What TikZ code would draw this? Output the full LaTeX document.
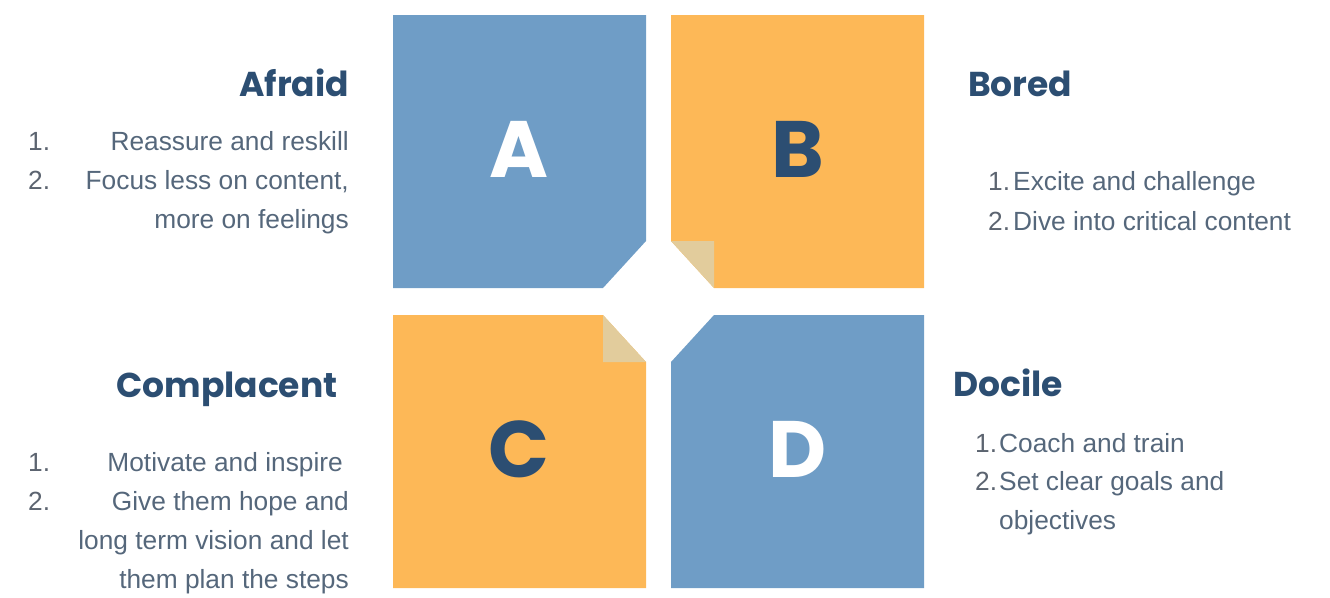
\documentclass[tikz,border=0pt]{standalone}
\usepackage{fontspec}
\setmainfont{Liberation Sans}
\newfontfamily\pop{Poppins}
\definecolor{qblue}{HTML}{6F9DC6}
\definecolor{qorange}{HTML}{FDB857}
\definecolor{qfold}{HTML}{E2CC9C}
\definecolor{qnavy}{HTML}{2C4E72}
\definecolor{qtext}{HTML}{55677B}
\definecolor{qnum}{HTML}{5C6470}
\begin{document}
\begin{tikzpicture}[x=1pt,y=-1pt,
  letter/.style={font=\pop\bfseries\fontsize{80}{80}\selectfont, inner sep=0pt, anchor=base},
  title/.style={font=\pop\bfseries\fontsize{34.5}{34.5}\selectfont, text=qnavy, inner sep=0pt},
  item/.style={font=\fontsize{26.3}{26.3}\selectfont, text=qtext, inner sep=0pt},
  num/.style={font=\fontsize{26.3}{26.3}\selectfont, text=qnum, inner sep=0pt, anchor=base west}]
\useasboundingbox (0,0) rectangle (1330,597);
% quadrants
\fill[qblue] (393,15) -- (646,15) -- (646,241) -- (603,288) -- (393,288) -- cycle;
\fill[qorange] (671,15) -- (924,15) -- (924,288) -- (714,288) -- (671,241) -- cycle;
\fill[qfold] (671,241) -- (714,241) -- (714,288) -- cycle;
\fill[qorange] (393,315) -- (603,315) -- (646,362) -- (646,588) -- (393,588) -- cycle;
\fill[qfold] (603,315) -- (603,362) -- (646,362) -- cycle;
\fill[qblue] (714,315) -- (924,315) -- (924,588) -- (671,588) -- (671,362) -- cycle;
% letters
\node[letter, text=white] (la) at (519,177) {A};
\node[letter, text=qnavy] (lb) at (798,177) {B};
\node[letter, text=qnavy] (lc) at (519,477) {C};
\node[letter, text=white] (ld) at (798,477) {D};
% A: Afraid
\node[title, anchor=base east] (ta) at (349,96) {Afraid};
\node[num] (a1n) at (28,150) {1.};
\node[item, anchor=base east] (a1) at (349,150) {Reassure and reskill};
\node[num] (a2n) at (28,189) {2.};
\node[item, anchor=base east] (a2) at (349,189) {Focus less on content,};
\node[item, anchor=base east] (a3) at (349,228) {more on feelings};
% B: Bored
\node[title, anchor=base west] (tb) at (968,96) {Bored};
\node[num] (b1n) at (988,190) {1.};
\node[item, anchor=base west] (b1) at (1013,190) {Excite and challenge};
\node[num] (b2n) at (988,230) {2.};
\node[item, anchor=base west] (b2) at (1013,230) {Dive into critical content};
% C: Complacent
\node[title, anchor=base west] (tc) at (116,397) {Complacent};
\node[num] (c1n) at (28,471) {1.};
\node[item, anchor=base east] (c1) at (343,471) {Motivate and inspire};
\node[num] (c2n) at (28,510) {2.};
\node[item, anchor=base east] (c2) at (349,510) {Give them hope and};
\node[item, anchor=base east] (c3) at (349,549) {long term vision and let};
\node[item, anchor=base east] (c4) at (349,588) {them plan the steps};
% D: Docile
\node[title, anchor=base west] (td) at (953,396) {Docile};
\node[num] (d1n) at (975,452) {1.};
\node[item, anchor=base west] (d1) at (999,452) {Coach and train};
\node[num] (d2n) at (975,490) {2.};
\node[item, anchor=base west] (d2) at (999,490) {Set clear goals and};
\node[item, anchor=base west] (d3) at (999,529) {objectives};
\end{tikzpicture}
\end{document}
